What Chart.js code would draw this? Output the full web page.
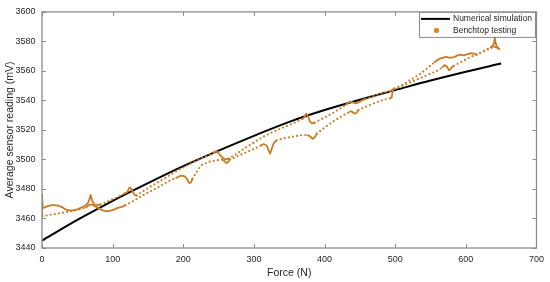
<!DOCTYPE html>
<html><head><meta charset="utf-8">
<script src="https://cdn.jsdelivr.net/npm/chart.js@4.4.1/dist/chart.umd.min.js"></script>
<style>html,body{margin:0;padding:0;background:#fff;overflow:hidden}#wrap{width:550px;height:282px;position:relative}</style>
</head><body><div id="wrap"><canvas id="c"></canvas></div>
<script>
// ---- data ----
const xTicks = [0, 100, 200, 300, 400, 500, 600, 700];
const yTicks = [3440, 3460, 3480, 3500, 3520, 3540, 3560, 3580, 3600];
const seriesNames = ['Numerical simulation', 'Benchtop testing'];
const axisTitles = ['Force (N)', 'Average sensor reading (mV)'];

const simForce   = [0, 50, 100, 150, 200, 250, 300, 350, 400, 450, 500, 550, 600, 650];
const simReading = [3445, 3459, 3472, 3484, 3495.5, 3506, 3516, 3525.5, 3533.5, 3540.5, 3547, 3553.5, 3559.5, 3565];

// benchtop path with the higher readings in the mid range
const benchUpperForce = [0, 1, 4, 9, 14, 19, 24, 29, 34, 39, 44, 49, 54, 58, 62, 65, 67, 69, 71, 74, 78, 83,
  95, 107, 117, 121, 123, 125, 128, 131, 134, 148, 162, 176, 190, 204, 218, 232, 243, 246, 249, 252, 256, 260, 264,
  276, 288, 300, 312, 324, 336, 348, 360, 369, 372, 374, 376, 379, 382, 386, 398, 410, 422, 430, 433, 437, 441, 445,
  449, 453, 458, 470, 482, 494, 497, 499, 510, 522, 534, 546, 556, 560, 564, 568, 572, 576, 580, 584, 588, 592, 596,
  600, 604, 608, 612, 615, 625, 635, 638, 640, 641, 642, 644, 647];
const benchUpperReading = [3476, 3467, 3467.5, 3468.5, 3469, 3469, 3468.5, 3467.5, 3466, 3465.5, 3465.5, 3466, 3467, 3468, 3469, 3470.5, 3473, 3476, 3472, 3469.5, 3469, 3469.5,
  3472, 3474.5, 3477, 3478, 3480.5, 3481, 3478.5, 3476, 3475.5, 3480, 3484, 3488, 3492, 3495.5, 3499, 3502, 3504.5, 3505.5, 3505, 3503, 3501, 3500, 3500.5,
  3504, 3508, 3511.5, 3515, 3518, 3520.5, 3523, 3525.5, 3527.5, 3529, 3531, 3530, 3526, 3524.5, 3525, 3528, 3531, 3534.5, 3537, 3538.5, 3539, 3538.5, 3538,
  3539, 3540, 3541, 3543, 3545, 3546.5, 3547.5, 3548, 3550.5, 3554, 3557.5, 3562, 3566, 3567.5, 3568.5, 3569, 3569.5, 3569, 3569, 3569.5, 3570.5, 3571, 3570.5,
  3571, 3571.5, 3572, 3571.5, 3571, 3573.5, 3576, 3577, 3579, 3583, 3579, 3576.5, 3575];

// benchtop path with the lower readings in the mid range
const benchLowerForce = [0, 0.5, 12, 24, 36, 48, 62, 66, 70, 74, 78, 82, 86, 90, 94, 98, 102, 106, 110, 114, 118,
  130, 142, 154, 166, 178, 190, 194, 198, 202, 205, 207, 209, 211, 213, 225, 237, 249, 255, 258, 261, 263, 266,
  278, 290, 302, 310, 314, 318, 321, 323, 325, 328, 332, 344, 356, 368, 376, 380, 383, 386, 389, 401, 413, 425, 436,
  439, 442, 445, 448, 460, 472, 484, 493, 495, 496, 497, 499, 511, 523, 535, 547, 559, 567, 570, 573, 575, 576, 578,
  580, 583, 595, 607, 619, 631, 640, 643, 647];
const benchLowerReading = [3466, 3461.5, 3462.5, 3463.5, 3464.5, 3465.5, 3467.5, 3469, 3469.5, 3468.5, 3467.5, 3466.5, 3465.5, 3465, 3465, 3465.5, 3466, 3467, 3467.5, 3468, 3469,
  3472, 3475.5, 3478.5, 3481.5, 3485, 3487.5, 3488.5, 3489, 3488.5, 3487, 3485, 3484, 3484.5, 3487, 3496, 3498.5, 3499.5, 3500, 3499, 3497.5, 3498, 3500,
  3502.5, 3505, 3507.5, 3509.5, 3510.5, 3509.5, 3506, 3504, 3507, 3511, 3513, 3514.5, 3515.5, 3516.5, 3516.5, 3515.5, 3514, 3515, 3517.5, 3522, 3526, 3529.5, 3532.5,
  3532.5, 3531, 3531.5, 3533.5, 3536, 3538.5, 3540.5, 3541.5, 3542, 3545, 3547.5, 3548, 3550, 3552.5, 3555, 3557.5, 3560, 3562.5, 3564, 3563, 3561.5, 3560.5, 3561,
  3562.5, 3563.5, 3566.5, 3569.5, 3572, 3574.5, 3576.5, 3576, 3575];

// ---- styles ----
const FONT = "'Liberation Sans', Arial, Helvetica, sans-serif";
const TEXT = '#262626';
const AXIS = '#8a8a8a';
const ORANGE = 'rgb(201,124,36)';
const HOLD_GAP = 6; // consecutive samples closer than this in force are a hold (drawn dense)

const toXY = (xs, ys) => xs.map((x, i) => ({x: x, y: ys[i]}));
const isHold = ctx => Math.abs(ctx.p1.parsed.x - ctx.p0.parsed.x) < HOLD_GAP;

const benchStyle = {
  showLine: true, pointRadius: 0, pointHoverRadius: 0,
  borderColor: ORANGE, backgroundColor: ORANGE, borderWidth: 2.2,
  borderDash: [0, 4.2], borderCapStyle: 'round', borderJoinStyle: 'round',
  tension: 0, order: 0,
  segment: {
    borderDash: ctx => isHold(ctx) ? [] : [0, 4.2],
    borderWidth: ctx => isHold(ctx) ? 1.8 : 2.2
  }
};

const framePlugin = {
  id: 'frame',
  afterDatasetsDraw(chart) {
    const {ctx, chartArea: a, scales: {x, y}} = chart;
    ctx.save();
    ctx.setLineDash([]);
    ctx.strokeStyle = AXIS;
    ctx.lineWidth = 1.3;
    ctx.strokeRect(a.left, a.top, a.right - a.left, a.bottom - a.top);
    ctx.lineWidth = 1;
    const tl = 4;
    ctx.beginPath();
    xTicks.forEach(v => {
      const p = Math.round(x.getPixelForValue(v)) + 0.5;
      ctx.moveTo(p, a.bottom); ctx.lineTo(p, a.bottom - tl);
      ctx.moveTo(p, a.top); ctx.lineTo(p, a.top + tl);
    });
    yTicks.forEach(v => {
      const p = Math.round(y.getPixelForValue(v)) + 0.5;
      ctx.moveTo(a.left, p); ctx.lineTo(a.left + tl, p);
      ctx.moveTo(a.right, p); ctx.lineTo(a.right - tl, p);
    });
    ctx.stroke();

    // legend box (inside the top-right corner)
    const w = 116, h = 25;
    const lx = a.right - 1.5 - w, ly = a.top;
    ctx.fillStyle = '#fff';
    ctx.fillRect(lx, ly, w, h);
    ctx.strokeStyle = AXIS;
    ctx.lineWidth = 1;
    ctx.strokeRect(lx + 0.5, ly + 0.5, w, h);
    ctx.strokeStyle = '#000';
    ctx.lineWidth = 2;
    ctx.beginPath();
    ctx.moveTo(lx + 2, ly + 7); ctx.lineTo(lx + 31, ly + 7);
    ctx.stroke();
    ctx.fillStyle = 'rgb(212,136,46)';
    ctx.beginPath();
    ctx.arc(lx + 17.5, ly + 18.5, 2.6, 0, Math.PI * 2);
    ctx.fill();
    ctx.fillStyle = TEXT;
    ctx.font = '8.5px ' + FONT;
    ctx.textBaseline = 'middle';
    ctx.textAlign = 'left';
    ctx.fillText(seriesNames[0], lx + 34, ly + 7);
    ctx.fillText(seriesNames[1], lx + 34, ly + 18.5);
    ctx.restore();
  }
};

new Chart(document.getElementById('c'), {
  type: 'scatter',
  data: {
    datasets: [
      Object.assign({label: seriesNames[1], data: toXY(benchUpperForce, benchUpperReading)}, benchStyle),
      Object.assign({label: seriesNames[1], data: toXY(benchLowerForce, benchLowerReading)}, benchStyle),
      {
        label: seriesNames[0], data: toXY(simForce, simReading), showLine: true,
        borderColor: '#000', backgroundColor: '#000', borderWidth: 2, pointRadius: 0,
        cubicInterpolationMode: 'monotone', order: 1
      }
    ]
  },
  options: {
    responsive: true, maintainAspectRatio: false, animation: false, devicePixelRatio: 1,
    layout: {padding: {top: 8, right: 13, left: 0, bottom: 0}},
    plugins: {legend: {display: false}, tooltip: {enabled: false}},
    scales: {
      x: {
        type: 'linear', min: 0, max: 700,
        afterBuildTicks: s => { s.ticks = xTicks.map(v => ({value: v})); },
        afterFit: s => { s.height = 34; },
        grid: {display: false, drawTicks: false},
        border: {display: false},
        ticks: {font: {family: FONT, size: 9}, color: TEXT, padding: 6, maxRotation: 0, autoSkip: false,
                callback: v => String(v)},
        title: {display: true, text: axisTitles[0], color: TEXT, font: {family: FONT, size: 10.5}, padding: {top: 0, bottom: 3}}
      },
      y: {
        type: 'linear', min: 3440, max: 3600,
        afterBuildTicks: s => { s.ticks = yTicks.map(v => ({value: v})); },
        afterFit: s => { s.width = 42; },
        grid: {display: false, drawTicks: false},
        border: {display: false},
        ticks: {font: {family: FONT, size: 9}, color: TEXT, padding: 6.5, autoSkip: false,
                callback: v => String(v)},
        title: {display: true, text: axisTitles[1], color: TEXT, font: {family: FONT, size: 10.5}, padding: {top: 3.7, bottom: 0}}
      }
    }
  },
  plugins: [framePlugin]
});
</script>
</body></html>
